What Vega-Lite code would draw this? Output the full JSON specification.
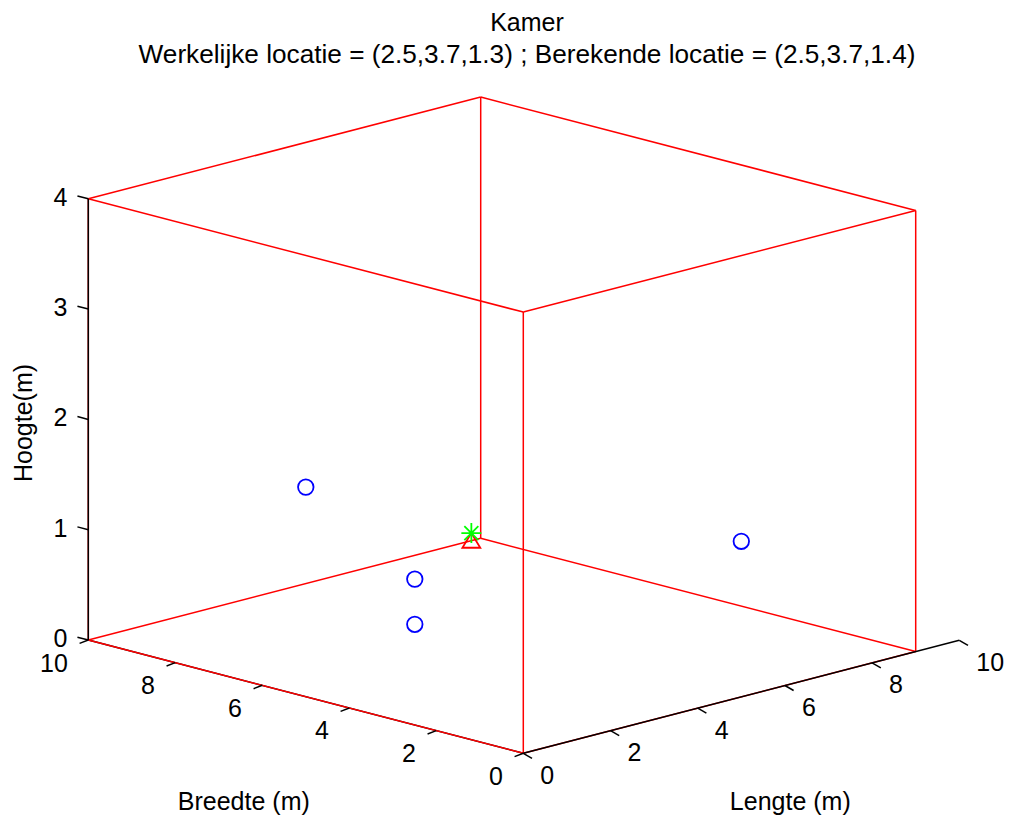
{
  "$schema": "https://vega.github.io/schema/vega-lite/v6.json",
  "autosize": "none",
  "width": 1014,
  "height": 740,
  "padding": {"left": 0, "right": 0, "top": 80, "bottom": 0},
  "background": "white",
  "config": {"view": {"stroke": null}, "font": "Liberation Sans"},
  "title": {
    "text": "Kamer",
    "subtitle": "Werkelijke locatie = (2.5,3.7,1.3) ; Berekende locatie = (2.5,3.7,1.4)",
    "anchor": "middle",
    "frame": "group",
    "font": "Liberation Sans",
    "fontSize": 25,
    "fontWeight": "normal",
    "color": "#000000",
    "subtitleFont": "Liberation Sans",
    "subtitleFontSize": 26.2,
    "subtitleColor": "#000000",
    "subtitlePadding": 6,
    "offset": 12,
    "dx": 20
  },
  "datasets": {
    "segments": [
      {"L1": 0, "B1": 0, "Z1": 0, "L2": 0, "B2": 10, "Z2": 0, "kind": "as"},
      {"L1": 0, "B1": 0, "Z1": 0, "L2": 9, "B2": 0, "Z2": 0, "kind": "kamer"},
      {"L1": 0, "B1": 0, "Z1": 0, "L2": 0, "B2": 10, "Z2": 0, "kind": "kamer"},
      {"L1": 9, "B1": 0, "Z1": 0, "L2": 9, "B2": 10, "Z2": 0, "kind": "kamer"},
      {"L1": 0, "B1": 10, "Z1": 0, "L2": 9, "B2": 10, "Z2": 0, "kind": "kamer"},
      {"L1": 0, "B1": 0, "Z1": 4, "L2": 9, "B2": 0, "Z2": 4, "kind": "kamer"},
      {"L1": 0, "B1": 0, "Z1": 4, "L2": 0, "B2": 10, "Z2": 4, "kind": "kamer"},
      {"L1": 9, "B1": 0, "Z1": 4, "L2": 9, "B2": 10, "Z2": 4, "kind": "kamer"},
      {"L1": 0, "B1": 10, "Z1": 4, "L2": 9, "B2": 10, "Z2": 4, "kind": "kamer"},
      {"L1": 0, "B1": 0, "Z1": 0, "L2": 0, "B2": 0, "Z2": 4, "kind": "kamer"},
      {"L1": 9, "B1": 0, "Z1": 0, "L2": 9, "B2": 0, "Z2": 4, "kind": "kamer"},
      {"L1": 0, "B1": 10, "Z1": 0, "L2": 0, "B2": 10, "Z2": 4, "kind": "kamer"},
      {"L1": 9, "B1": 10, "Z1": 0, "L2": 9, "B2": 10, "Z2": 4, "kind": "kamer"},
      {"L1": 0, "B1": 0, "Z1": 0, "L2": 10, "B2": 0, "Z2": 0, "kind": "as"},
      {"L1": 0, "B1": 10, "Z1": 0, "L2": 0, "B2": 10, "Z2": 4, "kind": "as"},
      {"L1": 0, "B1": 0, "Z1": 0, "L2": 0, "B2": -0.2, "Z2": -0.025, "kind": "as"},
      {"L1": 2, "B1": 0, "Z1": 0, "L2": 2, "B2": -0.2, "Z2": -0.025, "kind": "as"},
      {"L1": 4, "B1": 0, "Z1": 0, "L2": 4, "B2": -0.2, "Z2": -0.025, "kind": "as"},
      {"L1": 6, "B1": 0, "Z1": 0, "L2": 6, "B2": -0.2, "Z2": -0.025, "kind": "as"},
      {"L1": 8, "B1": 0, "Z1": 0, "L2": 8, "B2": -0.2, "Z2": -0.025, "kind": "as"},
      {"L1": 10, "B1": 0, "Z1": 0, "L2": 10, "B2": -0.2, "Z2": -0.025, "kind": "as"},
      {"L1": 0, "B1": 0, "Z1": 0, "L2": -0.2, "B2": 0, "Z2": -0.01, "kind": "as"},
      {"L1": 0, "B1": 2, "Z1": 0, "L2": -0.2, "B2": 2, "Z2": -0.01, "kind": "as"},
      {"L1": 0, "B1": 4, "Z1": 0, "L2": -0.2, "B2": 4, "Z2": -0.01, "kind": "as"},
      {"L1": 0, "B1": 6, "Z1": 0, "L2": -0.2, "B2": 6, "Z2": -0.01, "kind": "as"},
      {"L1": 0, "B1": 8, "Z1": 0, "L2": -0.2, "B2": 8, "Z2": -0.01, "kind": "as"},
      {"L1": 0, "B1": 10, "Z1": 0, "L2": -0.2, "B2": 10, "Z2": -0.01, "kind": "as"},
      {"L1": 0, "B1": 10, "Z1": 0, "L2": 0, "B2": 10.25, "Z2": 0, "kind": "as"},
      {"L1": 0, "B1": 10, "Z1": 1, "L2": 0, "B2": 10.25, "Z2": 1, "kind": "as"},
      {"L1": 0, "B1": 10, "Z1": 2, "L2": 0, "B2": 10.25, "Z2": 2, "kind": "as"},
      {"L1": 0, "B1": 10, "Z1": 3, "L2": 0, "B2": 10.25, "Z2": 3, "kind": "as"},
      {"L1": 0, "B1": 10, "Z1": 4, "L2": 0, "B2": 10.25, "Z2": 4, "kind": "as"}
    ],
    "points": [
      {"L": 0, "B": 5, "Z": 1.9, "type": "anker"},
      {"L": 5, "B": 0, "Z": 1.41, "type": "anker"},
      {"L": 2.5, "B": 5, "Z": 0.81, "type": "anker"},
      {"L": 2.5, "B": 5, "Z": 0.4, "type": "anker"},
      {"L": 2.5, "B": 3.7, "Z": 1.28, "type": "werkelijk"},
      {"L": 2.5, "B": 3.7, "Z": 1.36, "type": "berekend"}
    ],
    "ticklabels": [
      {"axis": "L", "L": 0, "B": 0, "Z": 0, "label": "0"},
      {"axis": "L", "L": 2, "B": 0, "Z": 0, "label": "2"},
      {"axis": "L", "L": 4, "B": 0, "Z": 0, "label": "4"},
      {"axis": "L", "L": 6, "B": 0, "Z": 0, "label": "6"},
      {"axis": "L", "L": 8, "B": 0, "Z": 0, "label": "8"},
      {"axis": "L", "L": 10, "B": 0, "Z": 0, "label": "10"},
      {"axis": "B", "L": 0, "B": 0, "Z": 0, "label": "0"},
      {"axis": "B", "L": 0, "B": 2, "Z": 0, "label": "2"},
      {"axis": "B", "L": 0, "B": 4, "Z": 0, "label": "4"},
      {"axis": "B", "L": 0, "B": 6, "Z": 0, "label": "6"},
      {"axis": "B", "L": 0, "B": 8, "Z": 0, "label": "8"},
      {"axis": "B", "L": 0, "B": 10, "Z": 0, "label": "10"},
      {"axis": "Z", "L": 0, "B": 10, "Z": 0, "label": "0"},
      {"axis": "Z", "L": 0, "B": 10, "Z": 1, "label": "1"},
      {"axis": "Z", "L": 0, "B": 10, "Z": 2, "label": "2"},
      {"axis": "Z", "L": 0, "B": 10, "Z": 3, "label": "3"},
      {"axis": "Z", "L": 0, "B": 10, "Z": 4, "label": "4"}
    ],
    "axistitles": [
      {"axis": "L", "L": 5, "B": 0, "Z": 0, "label": "Lengte (m)"},
      {"axis": "B", "L": 0, "B": 5, "Z": 0, "label": "Breedte (m)"},
      {"axis": "Z", "L": 0, "B": 10, "Z": 2, "label": "Hoogte(m)"}
    ]
  },
  "encoding": {
    "x": {"field": "px", "type": "quantitative", "scale": {"domain": [-523.3, 490.7], "nice": false, "zero": false}, "axis": null},
    "y": {"field": "py", "type": "quantitative", "scale": {"domain": [-66.7, 673.3], "nice": false, "zero": false}, "axis": null}
  },
  "resolve": {"scale": {"color": "independent", "shape": "independent", "size": "independent"}},
  "layer": [
    {
      "data": {"name": "segments"},
      "transform": [
        {"calculate": "43.6 * datum.L1 - 43.5 * datum.B1", "as": "px"},
        {"calculate": "11.3 * datum.L1 + 11.33 * datum.B1 + 110.3 * datum.Z1", "as": "py"},
        {"calculate": "43.6 * datum.L2 - 43.5 * datum.B2", "as": "px2"},
        {"calculate": "11.3 * datum.L2 + 11.33 * datum.B2 + 110.3 * datum.Z2", "as": "py2"}
      ],
      "mark": {"type": "rule", "strokeWidth": 1.5},
      "encoding": {
        "x2": {"field": "px2"},
        "y2": {"field": "py2"},
        "color": {"field": "kind", "type": "nominal", "scale": {"domain": ["as", "kamer"], "range": ["#000000", "#ff0000"]}, "legend": null}
      }
    },
    {
      "data": {"name": "points"},
      "transform": [
        {"calculate": "43.6 * datum.L - 43.5 * datum.B", "as": "px"},
        {"calculate": "11.3 * datum.L + 11.33 * datum.B + 110.3 * datum.Z", "as": "py"}
      ],
      "mark": {"type": "point", "filled": false, "strokeWidth": 1.8, "opacity": 1},
      "encoding": {
        "shape": {"field": "type", "type": "nominal", "scale": {"domain": ["anker", "werkelijk", "berekend"], "range": ["circle", "M-1,0.65L1,0.65L0,-1Z", "M-1,0L1,0M0,-1L0,1M-0.7,-0.7L0.7,0.7M-0.7,0.7L0.7,-0.7"]}, "legend": null},
        "color": {"field": "type", "type": "nominal", "scale": {"domain": ["anker", "werkelijk", "berekend"], "range": ["#0000ff", "#ff0000", "#00ff00"]}, "legend": null},
        "size": {"field": "type", "type": "nominal", "scale": {"domain": ["anker", "werkelijk", "berekend"], "range": [240, 400, 225]}, "legend": null}
      }
    },
    {
      "data": {"name": "ticklabels"},
      "transform": [
        {"filter": "datum.axis == 'L'"},
        {"calculate": "43.6 * datum.L - 43.5 * datum.B", "as": "px"},
        {"calculate": "11.3 * datum.L + 11.33 * datum.B + 110.3 * datum.Z", "as": "py"}
      ],
      "mark": {"type": "text", "align": "left", "baseline": "alphabetic", "dx": 17, "dy": 30.5, "fontSize": 25, "font": "Liberation Sans", "color": "#000000"},
      "encoding": {"text": {"field": "label"}}
    },
    {
      "data": {"name": "ticklabels"},
      "transform": [
        {"filter": "datum.axis == 'B'"},
        {"calculate": "43.6 * datum.L - 43.5 * datum.B", "as": "px"},
        {"calculate": "11.3 * datum.L + 11.33 * datum.B + 110.3 * datum.Z", "as": "py"}
      ],
      "mark": {"type": "text", "align": "right", "baseline": "alphabetic", "dx": -20.5, "dy": 31.5, "fontSize": 25, "font": "Liberation Sans", "color": "#000000"},
      "encoding": {"text": {"field": "label"}}
    },
    {
      "data": {"name": "ticklabels"},
      "transform": [
        {"filter": "datum.axis == 'Z'"},
        {"calculate": "43.6 * datum.L - 43.5 * datum.B", "as": "px"},
        {"calculate": "11.3 * datum.L + 11.33 * datum.B + 110.3 * datum.Z", "as": "py"}
      ],
      "mark": {"type": "text", "align": "right", "baseline": "alphabetic", "dx": -21, "dy": 7, "fontSize": 25, "font": "Liberation Sans", "color": "#000000"},
      "encoding": {"text": {"field": "label"}}
    },
    {
      "data": {"name": "axistitles"},
      "transform": [
        {"filter": "datum.axis == 'L'"},
        {"calculate": "43.6 * datum.L - 43.5 * datum.B", "as": "px"},
        {"calculate": "11.3 * datum.L + 11.33 * datum.B + 110.3 * datum.Z", "as": "py"}
      ],
      "mark": {"type": "text", "align": "center", "baseline": "alphabetic", "dx": 49, "dy": 113.4, "fontSize": 25, "font": "Liberation Sans", "color": "#000000"},
      "encoding": {"text": {"field": "label"}}
    },
    {
      "data": {"name": "axistitles"},
      "transform": [
        {"filter": "datum.axis == 'B'"},
        {"calculate": "43.6 * datum.L - 43.5 * datum.B", "as": "px"},
        {"calculate": "11.3 * datum.L + 11.33 * datum.B + 110.3 * datum.Z", "as": "py"}
      ],
      "mark": {"type": "text", "align": "center", "baseline": "alphabetic", "dx": -62, "dy": 113.4, "fontSize": 25, "font": "Liberation Sans", "color": "#000000"},
      "encoding": {"text": {"field": "label"}}
    },
    {
      "data": {"name": "axistitles"},
      "transform": [
        {"filter": "datum.axis == 'Z'"},
        {"calculate": "43.6 * datum.L - 43.5 * datum.B", "as": "px"},
        {"calculate": "11.3 * datum.L + 11.33 * datum.B + 110.3 * datum.Z", "as": "py"}
      ],
      "mark": {"type": "text", "align": "center", "baseline": "middle", "angle": 270, "dx": -3.6, "dy": -64, "fontSize": 25, "font": "Liberation Sans", "color": "#000000"},
      "encoding": {"text": {"field": "label"}}
    }
  ]
}
